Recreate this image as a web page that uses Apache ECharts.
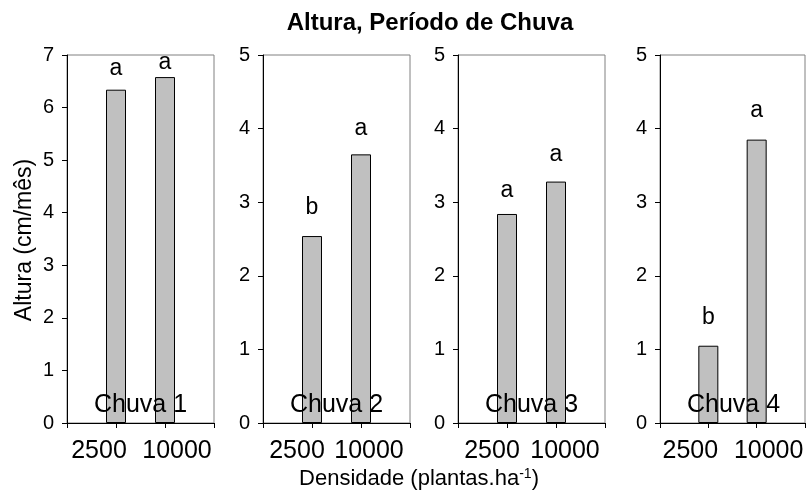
<!DOCTYPE html>
<html>
<head>
<meta charset="utf-8">
<script src="https://cdn.jsdelivr.net/npm/echarts@6/dist/echarts.min.js"></script>
<style>html,body{margin:0;padding:0;background:#fff}#c{width:808px;height:493px}</style>
</head>
<body>
<div id="c"></div>
<script>
// ---- data ----
const categories = ['2500', '10000'];
const panelNames = ['Chuva 1', 'Chuva 2', 'Chuva 3', 'Chuva 4'];
const chuva1 = [6.34, 6.58];
const chuva2 = [2.54, 3.65];
const chuva3 = [2.84, 3.28];
const chuva4 = [1.05, 3.85];
const letters1 = ['a', 'a'];
const letters2 = ['b', 'a'];
const letters3 = ['a', 'a'];
const letters4 = ['b', 'a'];
const yMaxes = [7, 5, 5, 5];
const titleText = 'Altura, Período de Chuva';
const yName = 'Altura (cm/mês)';

// ---- styling / layout ----
const values = [chuva1, chuva2, chuva3, chuva4];
const letters = [letters1, letters2, letters3, letters4];
const letterGap = [[10, 3], [17, 14], [12, 15], [17, 17]];
// horizontal shift of the two category labels (left label, right label) in each panel
const labelShift = [[-17, 12], [-15, 8], [-15, 9], [-18, 12]];
const gridLefts = [67, 263, 458, 660];
const gridW = 147, gridTop = 55, gridH = 368;
const FONT = 'Arial, "Liberation Sans", sans-serif';

const grids = [], xAxes = [], yAxes = [], series = [], graphics = [];
for (let i = 0; i < 4; i++) {
  const sh = labelShift[i];
  const rich = {
    l: {fontSize: 25, fontFamily: FONT, color: '#000', padding: [0, -2 * sh[0], 0, 0]},
    r: {fontSize: 25, fontFamily: FONT, color: '#000', padding: [0, 0, 0, 2 * sh[1]]}
  };
  grids.push({left: gridLefts[i], top: gridTop, width: gridW, height: gridH,
    show: true, borderColor: '#808080', borderWidth: 1, backgroundColor: 'transparent'});
  xAxes.push({type: 'value', gridIndex: i, min: 0, max: 3, interval: 1,
    axisLine: {show: true, onZero: false, lineStyle: {color: '#000', width: 1}},
    axisTick: {show: true, length: 5, inside: false, lineStyle: {color: '#000'}},
    splitLine: {show: false},
    axisLabel: {show: true, margin: 16, fontSize: 25, color: '#000', fontFamily: FONT,
      hideOverlap: false, rich: rich,
      formatter: v => (v === 1 ? '{l|' + categories[0] + '}' : v === 2 ? '{r|' + categories[1] + '}' : '')}});
  yAxes.push({type: 'value', gridIndex: i, min: 0, max: yMaxes[i], interval: 1,
    axisLine: {show: true, lineStyle: {color: '#000', width: 1}},
    axisTick: {show: true, length: 5, lineStyle: {color: '#000'}},
    splitLine: {show: false},
    axisLabel: {margin: 13, fontSize: 20, color: '#000', fontFamily: FONT}});
  series.push({type: 'bar', xAxisIndex: i, yAxisIndex: i, barWidth: 20,
    itemStyle: {color: '#c0c0c0', borderColor: '#000', borderWidth: 1},
    data: values[i].map((v, j) => ({
      value: [j + 1, v],
      label: {show: true, position: 'top', distance: letterGap[i][j],
        formatter: letters[i][j], fontSize: 23, color: '#000', fontFamily: FONT}
    }))});
  graphics.push({type: 'text', x: gridLefts[i] + gridW / 2, y: 405, z: 100,
    style: {text: panelNames[i], fontSize: 25, fontFamily: FONT, fill: '#000',
      align: 'center', verticalAlign: 'middle'}});
}
graphics.push({type: 'text', x: 430, y: 23, style: {text: titleText, fontSize: 24, fontWeight: 'bold',
  fontFamily: FONT, fill: '#000', align: 'center', verticalAlign: 'middle'}});
graphics.push({type: 'text', x: 25, y: 240, rotation: Math.PI / 2, style: {text: yName, fontSize: 23,
  fontFamily: FONT, fill: '#000', align: 'center', verticalAlign: 'middle'}});
graphics.push({type: 'text', x: 419, y: 479, style: {
  text: 'Densidade (plantas.ha{sup|-1})', fontSize: 22, fontFamily: FONT, fill: '#000',
  align: 'center', verticalAlign: 'middle',
  rich: {sup: {fontSize: 14, fontFamily: FONT, fill: '#000', verticalAlign: 'top', padding: [0, 0, 10, 0]}}}});

const chart = echarts.init(document.getElementById('c'));
chart.setOption({animation: false, grid: grids, xAxis: xAxes, yAxis: yAxes, series: series, graphic: graphics});
</script>
</body>
</html>
